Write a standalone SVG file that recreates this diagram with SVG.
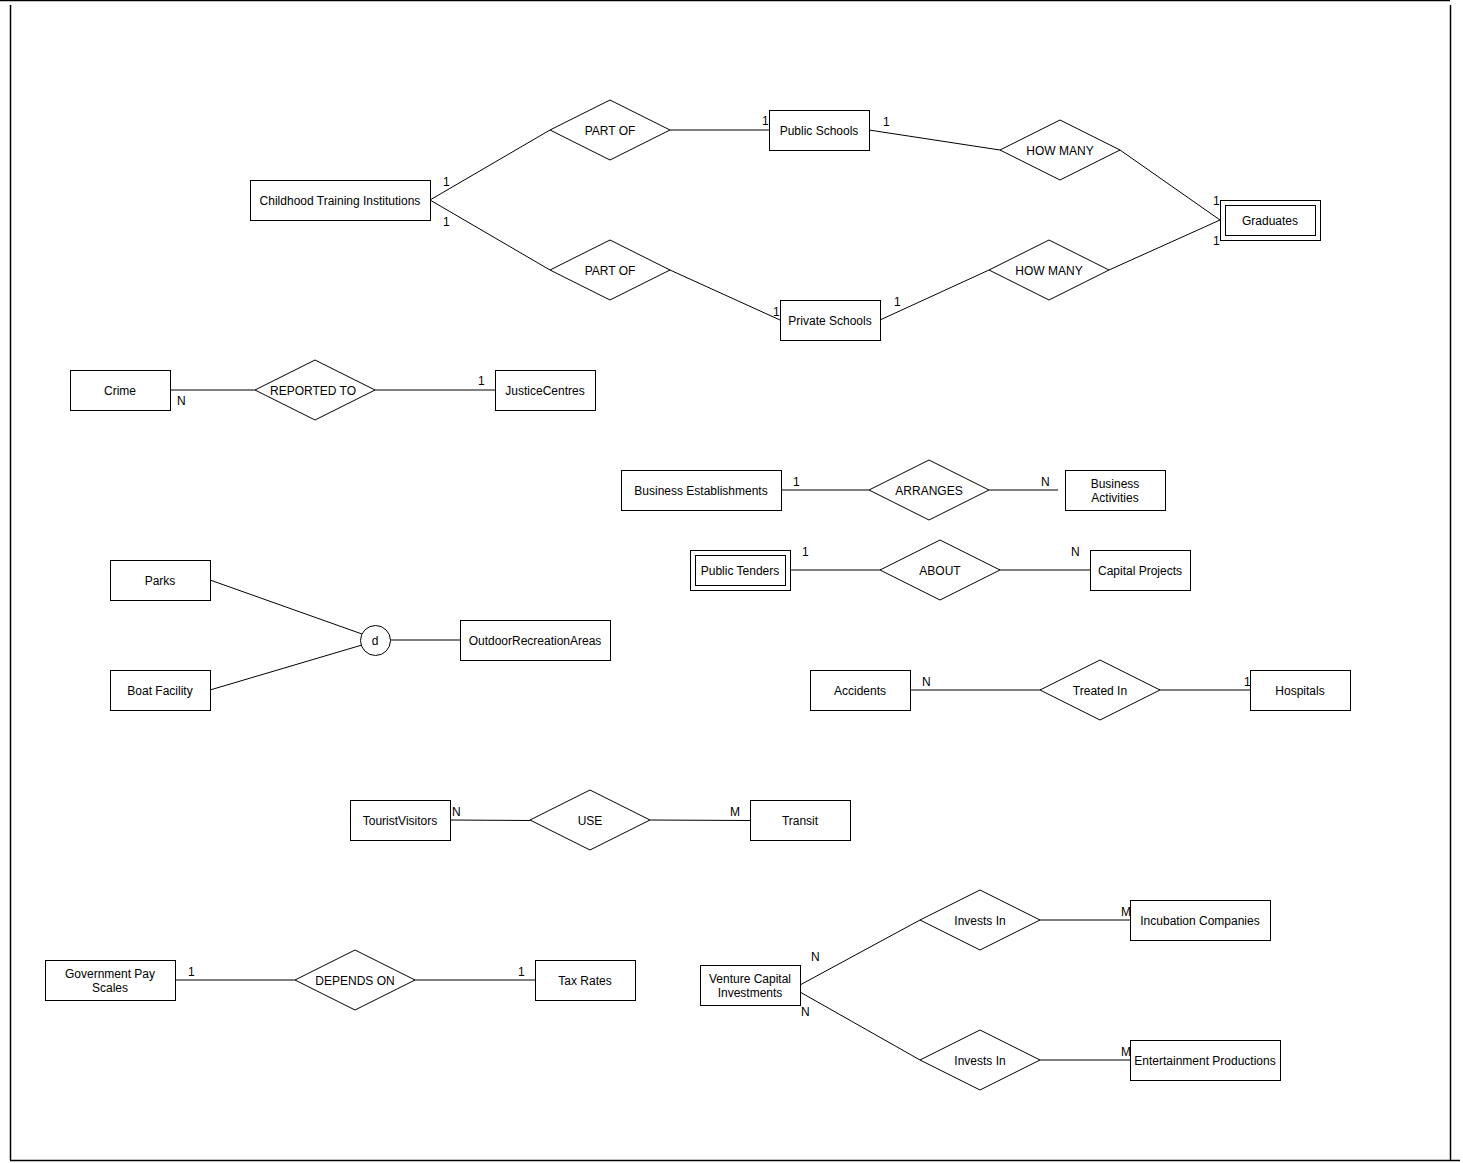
<svg xmlns="http://www.w3.org/2000/svg" width="1463" height="1163" viewBox="0 0 1463 1163">
<style>
.e{fill:#fff;stroke:#000;stroke-width:1}
.r{fill:#fff;stroke:#000;stroke-width:1}
.c{fill:none;stroke:#000;stroke-width:1}
.fr{fill:none;stroke:#000;stroke-width:1.5}
text{font-family:"Liberation Sans",Arial,sans-serif;font-size:12px;fill:#000}
.t{text-anchor:middle;dominant-baseline:central;transform:translate(0px,1px)}
</style>
<rect width="1463" height="1163" fill="#fff"/>
<g id="frame">
<line class="fr" x1="0" y1="0.5" x2="1450" y2="0.5"/>
<line class="fr" x1="10.5" y1="5" x2="10.5" y2="1160"/>
<line class="fr" x1="10" y1="1160.5" x2="1460" y2="1160.5"/>
<line class="fr" x1="1450.5" y1="5" x2="1450.5" y2="1160"/>
</g>
<g id="connectors">
<line class="c" x1="430" y1="200" x2="550" y2="130"/>
<line class="c" x1="430" y1="200" x2="550" y2="270"/>
<line class="c" x1="670" y1="130" x2="769" y2="130"/>
<line class="c" x1="670" y1="270" x2="780" y2="320"/>
<line class="c" x1="869" y1="130" x2="1000" y2="150"/>
<line class="c" x1="1120" y1="150" x2="1220" y2="220"/>
<line class="c" x1="880" y1="320" x2="989" y2="270"/>
<line class="c" x1="1109" y1="270" x2="1220" y2="220"/>
<line class="c" x1="170" y1="390" x2="255" y2="390"/>
<line class="c" x1="375" y1="390" x2="495" y2="390"/>
<line class="c" x1="781" y1="490" x2="869" y2="490"/>
<line class="c" x1="989" y1="490" x2="1058" y2="490"/>
<line class="c" x1="790" y1="570" x2="880" y2="570"/>
<line class="c" x1="1000" y1="570" x2="1090" y2="570"/>
<line class="c" x1="210" y1="580" x2="362" y2="634"/>
<line class="c" x1="210" y1="690" x2="362" y2="645"/>
<line class="c" x1="390" y1="640" x2="460" y2="640"/>
<line class="c" x1="910" y1="690" x2="1040" y2="690"/>
<line class="c" x1="1160" y1="690" x2="1250" y2="690"/>
<line class="c" x1="450" y1="820" x2="530" y2="820.5"/>
<line class="c" x1="650" y1="820" x2="750" y2="820.5"/>
<line class="c" x1="175" y1="980" x2="295" y2="980"/>
<line class="c" x1="415" y1="980" x2="535" y2="980"/>
<line class="c" x1="800" y1="985" x2="920" y2="920"/>
<line class="c" x1="800" y1="992" x2="920" y2="1060"/>
<line class="c" x1="1040" y1="920" x2="1130" y2="920"/>
<line class="c" x1="1040" y1="1060" x2="1130" y2="1060"/>
</g>
<g id="cardinalities">
<text x="443" y="186">1</text>
<text x="443" y="226">1</text>
<text x="762" y="125">1</text>
<text x="773" y="316">1</text>
<text x="883" y="126">1</text>
<text x="1213" y="205">1</text>
<text x="894" y="306">1</text>
<text x="1213" y="245">1</text>
<text x="177" y="405">N</text>
<text x="478" y="385">1</text>
<text x="793" y="486">1</text>
<text x="1041" y="486">N</text>
<text x="802" y="556">1</text>
<text x="1071" y="556">N</text>
<text x="922" y="686">N</text>
<text x="1244" y="686">1</text>
<text x="452" y="816">N</text>
<text x="730" y="816">M</text>
<text x="188" y="976">1</text>
<text x="518" y="976">1</text>
<text x="811" y="961">N</text>
<text x="801" y="1016">N</text>
<text x="1121" y="916">M</text>
<text x="1121" y="1056">M</text>
</g>
<g id="childhood"><rect class="e" x="250.5" y="180.5" width="180" height="40"/><text class="t" x="340" y="200">Childhood Training Institutions</text></g>
<g id="public-schools"><rect class="e" x="769.5" y="110.5" width="100" height="40"/><text class="t" x="819" y="130">Public Schools</text></g>
<g id="private-schools"><rect class="e" x="780.5" y="300.5" width="100" height="40"/><text class="t" x="830" y="320">Private Schools</text></g>
<g id="graduates"><rect class="e" x="1220.5" y="200.5" width="100" height="40"/><rect class="e" x="1225.5" y="205.5" width="90" height="30"/><text class="t" x="1270" y="220">Graduates</text></g>
<g id="part-of-1"><polygon class="r" points="550,130 610,100 670,130 610,160"/><text class="t" x="610" y="130">PART OF</text></g>
<g id="part-of-2"><polygon class="r" points="550,270 610,240 670,270 610,300"/><text class="t" x="610" y="270">PART OF</text></g>
<g id="how-many-1"><polygon class="r" points="1000,150 1060,120 1120,150 1060,180"/><text class="t" x="1060" y="150">HOW MANY</text></g>
<g id="how-many-2"><polygon class="r" points="989,270 1049,240 1109,270 1049,300"/><text class="t" x="1049" y="270">HOW MANY</text></g>
<g id="crime"><rect class="e" x="70.5" y="370.5" width="100" height="40"/><text class="t" x="120" y="390">Crime</text></g>
<g id="reported-to"><polygon class="r" points="255,390 315,360 375,390 315,420"/><text class="t" x="313" y="390">REPORTED TO</text></g>
<g id="justice"><rect class="e" x="495.5" y="370.5" width="100" height="40"/><text class="t" x="545" y="390">JusticeCentres</text></g>
<g id="business-est"><rect class="e" x="621.5" y="470.5" width="160" height="40"/><text class="t" x="701" y="490">Business Establishments</text></g>
<g id="arranges"><polygon class="r" points="869,490 929,460 989,490 929,520"/><text class="t" x="929" y="490">ARRANGES</text></g>
<g id="business-act"><rect class="e" x="1065.5" y="470.5" width="100" height="40"/><text class="t" x="1115" y="483">Business</text><text class="t" x="1115" y="497">Activities</text></g>
<g id="public-tenders"><rect class="e" x="690.5" y="550.5" width="100" height="40"/><rect class="e" x="695.5" y="555.5" width="90" height="30"/><text class="t" x="740" y="570">Public Tenders</text></g>
<g id="about"><polygon class="r" points="880,570 940,540 1000,570 940,600"/><text class="t" x="940" y="570">ABOUT</text></g>
<g id="capital"><rect class="e" x="1090.5" y="550.5" width="100" height="40"/><text class="t" x="1140" y="570">Capital Projects</text></g>
<g id="parks"><rect class="e" x="110.5" y="560.5" width="100" height="40"/><text class="t" x="160" y="580">Parks</text></g>
<g id="boat"><rect class="e" x="110.5" y="670.5" width="100" height="40"/><text class="t" x="160" y="690">Boat Facility</text></g>
<g id="disjoint"><circle class="e" cx="375.5" cy="640.5" r="15"/><text class="t" x="375" y="640">d</text></g>
<g id="outdoor"><rect class="e" x="460.5" y="620.5" width="150" height="40"/><text class="t" x="535" y="640">OutdoorRecreationAreas</text></g>
<g id="accidents"><rect class="e" x="810.5" y="670.5" width="100" height="40"/><text class="t" x="860" y="690">Accidents</text></g>
<g id="treated-in"><polygon class="r" points="1040,690 1100,660 1160,690 1100,720"/><text class="t" x="1100" y="690">Treated In</text></g>
<g id="hospitals"><rect class="e" x="1250.5" y="670.5" width="100" height="40"/><text class="t" x="1300" y="690">Hospitals</text></g>
<g id="tourist"><rect class="e" x="350.5" y="800.5" width="100" height="40"/><text class="t" x="400" y="820">TouristVisitors</text></g>
<g id="use"><polygon class="r" points="530,820 590,790 650,820 590,850"/><text class="t" x="590" y="820">USE</text></g>
<g id="transit"><rect class="e" x="750.5" y="800.5" width="100" height="40"/><text class="t" x="800" y="820">Transit</text></g>
<g id="gov-pay"><rect class="e" x="45.5" y="960.5" width="130" height="40"/><text class="t" x="110" y="973">Government Pay</text><text class="t" x="110" y="987">Scales</text></g>
<g id="depends-on"><polygon class="r" points="295,980 355,950 415,980 355,1010"/><text class="t" x="355" y="980">DEPENDS ON</text></g>
<g id="tax"><rect class="e" x="535.5" y="960.5" width="100" height="40"/><text class="t" x="585" y="980">Tax Rates</text></g>
<g id="vci"><rect class="e" x="700.5" y="965.5" width="100" height="40"/><text class="t" x="750" y="978">Venture Capital</text><text class="t" x="750" y="992">Investments</text></g>
<g id="invests-in-1"><polygon class="r" points="920,920 980,890 1040,920 980,950"/><text class="t" x="980" y="920">Invests In</text></g>
<g id="invests-in-2"><polygon class="r" points="920,1060 980,1030 1040,1060 980,1090"/><text class="t" x="980" y="1060">Invests In</text></g>
<g id="incubation"><rect class="e" x="1130.5" y="900.5" width="140" height="40"/><text class="t" x="1200" y="920">Incubation Companies</text></g>
<g id="entertainment"><rect class="e" x="1130.5" y="1040.5" width="150" height="40"/><text class="t" x="1205" y="1060">Entertainment Productions</text></g>
</svg>
